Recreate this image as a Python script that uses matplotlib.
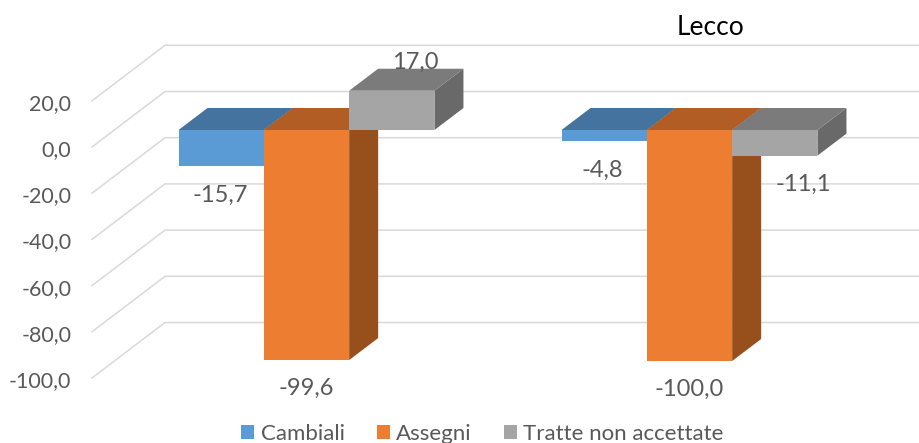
import matplotlib
matplotlib.use("Agg")
import matplotlib.pyplot as plt
from matplotlib.patches import Polygon

# ---- data ----
groups = [0, 1]
series_names = ["Cambiali", "Assegni", "Tratte non accettate"]
cambiali = [-15.7, -4.8]
assegni = [-99.6, -100.0]
tratte = [17.0, -11.1]
tick_values = [20, 0, -20, -40, -60, -80, -100]
tick_labels = ["20,0", "0,0", "-20,0", "-40,0", "-60,0", "-80,0", "-100,0"]
value_labels = {"Cambiali": ["-15,7", "-4,8"], "Assegni": ["-99,6", "-100,0"],
                "Tratte non accettate": ["17,0", "-11,1"]}

# ---- style / layout ----
plt.rcParams["font.family"] = ["Lato", "DejaVu Sans"]
FRONT = {"Cambiali": "#5B9BD5", "Assegni": "#ED7D31", "Tratte non accettate": "#A5A5A5"}
TOP = {"Cambiali": "#44739F", "Assegni": "#B15D24", "Tratte non accettate": "#7B7B7B"}
SIDE = {"Cambiali": "#3D6A94", "Assegni": "#974F1C", "Tratte non accettate": "#696969"}
TXT = "#595959"
W, H, DPI = 920, 443, 100
PX_PER_VAL = 2.31
PX_PER_CAT = 383.0
ZERO_PX = 130.0
CAT0_PX = 306.5
AX_LEFT = 92.0
BAR_W = 85.3 / PX_PER_CAT
DX = 29.0 / PX_PER_CAT
DY = 22.0 / PX_PER_VAL
WALL_FRONT_DY = (130 - 147.0) / PX_PER_VAL
WALL_BACK_DY = (130 - 91.5) / PX_PER_VAL
WALL_BACK_DX = (165 - AX_LEFT) / PX_PER_CAT
FS_TICK = 15.5
FS_VALUE = 17.0
FS_LEGEND = 16.0
FS_TITLE = 19.0
PT = 72.0 / DPI

fig = plt.figure(figsize=(W / DPI, H / DPI), dpi=DPI, facecolor="white")
rect = [AX_LEFT / W, 0, 1 - AX_LEFT / W, 1]

# axis carrying the value labels (aligned with the front edge of the wall)
ax_t = fig.add_axes(rect, facecolor="none")
ax_t.set_xlim(0, 1)
ax_t.set_ylim((148.0 - H) / PX_PER_VAL, 148.0 / PX_PER_VAL)
ax_t.set_xticks([])
ax_t.set_yticks(tick_values)
ax_t.set_yticklabels(tick_labels, fontsize=FS_TICK, color=TXT)
ax_t.tick_params(axis="y", length=0, pad=20.5 * PT)
for s in ax_t.spines.values():
    s.set_visible(False)

ax = fig.add_axes(rect, facecolor="none")
ax.set_xlim((AX_LEFT - CAT0_PX) / PX_PER_CAT, (W - CAT0_PX) / PX_PER_CAT)
ax.set_ylim((ZERO_PX - H) / PX_PER_VAL, ZERO_PX / PX_PER_VAL)
ax.axis("off")

xl, xr = ax.get_xlim()
for v in tick_values:
    ax.plot([xl, xl + WALL_BACK_DX, xr],
            [v + WALL_FRONT_DY, v + WALL_BACK_DY, v + WALL_BACK_DY],
            color="#D9D9D9", lw=1.1, zorder=1, clip_on=False)

# bars
all_series = [cambiali, assegni, tratte]
handles = []
z = 2
for g in groups:
    for i, (name, vals) in enumerate(zip(series_names, all_series)):
        x0 = g + (i - 1.5) * BAR_W
        x1 = x0 + BAR_W
        v = vals[g]
        lo, hi = min(v, 0), max(v, 0)
        ax.add_patch(Polygon([(x1, lo), (x1, hi), (x1 + DX, hi + DY), (x1 + DX, lo + DY)],
                             closed=True, fc=SIDE[name], ec="none", zorder=z))
        ax.add_patch(Polygon([(x0, hi), (x1, hi), (x1 + DX, hi + DY), (x0 + DX, hi + DY)],
                             closed=True, fc=TOP[name], ec="none", zorder=z))
        b = ax.bar(x0, hi - lo, width=BAR_W, bottom=lo, align="edge",
                   color=FRONT[name], zorder=z, label=name)
        if g == 0:
            handles.append(b)
        z += 1

# value labels (pixel offsets from the end of each bar)
offsets = {"Cambiali": [(-1, -29), (-1.5, -29)], "Assegni": [(-0.5, -28.5), (-0.5, -28.5)],
           "Tratte non accettate": [(23.5, 28), (28.5, -29)]}
for i, (name, vals) in enumerate(zip(series_names, all_series)):
    for g in groups:
        ox, oy = offsets[name][g]
        ax.annotate(value_labels[name][g], (g + (i - 1) * BAR_W, vals[g]),
                    xytext=(ox * PT, oy * PT), textcoords="offset points",
                    ha="center", va="center", fontsize=FS_VALUE, color=TXT, zorder=50)

ax.set_title("Lecco", x=(711 - AX_LEFT) / (W - AX_LEFT), y=1 - 27.5 / H,
             fontsize=FS_TITLE, color="black", va="center", pad=0)

fig.legend(handles=handles, labels=series_names, ncol=3, loc="center",
           bbox_to_anchor=(482.5 / W, 1 - 433.5 / H), frameon=False, fontsize=FS_LEGEND, labelcolor=TXT,
           handlelength=13 * PT / FS_LEGEND, handleheight=13 * PT / FS_LEGEND, handletextpad=0.28,
           columnspacing=1.45, borderpad=0, borderaxespad=0)

fig.savefig("out.png", dpi=DPI)
